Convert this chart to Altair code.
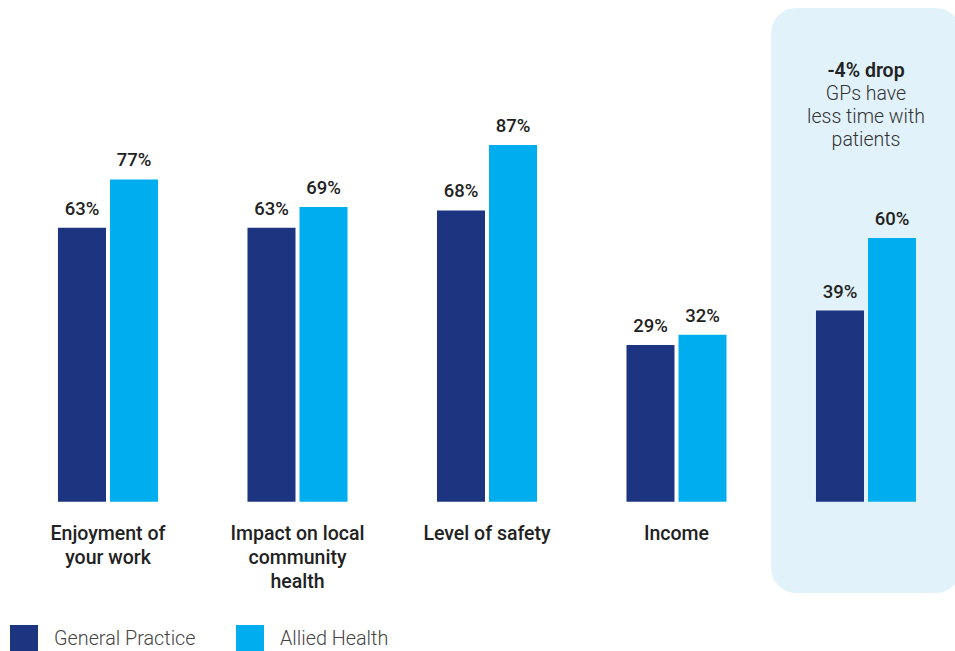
import altair as alt
import pandas as pd

categories = [
    "Enjoyment of your work",
    "Impact on local community health",
    "Level of safety",
    "Income",
    "Time available with patients",
]
category_lines = [
    ["Enjoyment of", "your work"],
    ["Impact on local", "community", "health"],
    ["Level of safety"],
    ["Income"],
    ["Time available", "with patients"],
]
series = ["General Practice", "Allied Health"]
general_practice = [63, 63, 68, 29, 39]
allied_health = [77, 69, 87, 32, 60]
colors = ["#1d3481", "#00aeef"]

highlight_category = "Time available with patients"
note_title = "-4% drop"
note_body = "GPs have|less time with|patients"

rows = []
for c, gp, ah in zip(categories, general_practice, allied_health):
    rows.append({"category": c, "series": series[0], "value": gp, "label": f"{gp}%"})
    rows.append({"category": c, "series": series[1], "value": ah, "label": f"{ah}%"})
df = pd.DataFrame(rows)

y_min, y_max = -16.4, 129.0
FONT = "Roboto"

label_map = "{" + ", ".join(
    "'" + c + "': [" + ", ".join("'" + l + "'" for l in lines) + "]"
    for c, lines in zip(categories, category_lines)
) + "}"

x_enc = alt.X(
    "category:N",
    sort=categories,
    scale=alt.Scale(domain=categories, paddingInner=0, paddingOuter=0, range=[0, 947.5]),
    axis=alt.Axis(
        title=None, domain=False, ticks=False, labelAngle=0,
        labelExpr=label_map + "[datum.label]",
        labelFont=FONT, labelFontSize=19.5, labelFontWeight=500, labelColor="#222222",
        labelPadding=23, labelLineHeight=24, labelBaseline="top", labelLimit=300,
    ),
)
xoff_enc = alt.XOffset(
    "series:N", sort=series,
    scale=alt.Scale(domain=series, paddingInner=4 / 52, paddingOuter=0.86),
)
y_scale = alt.Scale(domain=[y_min, y_max], nice=False, zero=False)

panel = alt.Chart(pd.DataFrame({"category": [highlight_category]})).mark_bar(
    color="#e1f2fb", cornerRadius=25
).encode(
    x=x_enc,
    y=alt.value(8),
    y2=alt.value(593),
)

bars = alt.Chart(df).mark_bar().encode(
    x=x_enc,
    xOffset=xoff_enc,
    y=alt.Y("value:Q", scale=y_scale, axis=None),
    y2=alt.datum(y_min),
    color=alt.Color(
        "series:N", sort=series,
        scale=alt.Scale(domain=series, range=colors),
        legend=alt.Legend(
            title=None, orient="none", legendX=-3.25, legendY=625,
            direction="horizontal", columns=2, columnPadding=40,
            symbolType="square", symbolSize=784, symbolStrokeWidth=0,
            symbolOpacity=1, labelOffset=16,
            labelFont=FONT, labelFontSize=19.8, labelFontWeight=300,
            labelColor="#444444", labelLimit=300,
        ),
    ),
)

values = alt.Chart(df).mark_text(
    font=FONT, fontSize=18.5, fontWeight=500, color="#222222",
    baseline="alphabetic", dy=-13,
).encode(
    x=x_enc,
    xOffset=xoff_enc,
    y=alt.Y("value:Q", scale=y_scale),
    text="label:N",
)

note_df = pd.DataFrame({"category": [highlight_category], "title": [note_title], "body": [note_body]})
note_title_layer = alt.Chart(note_df).mark_text(
    font=FONT, fontSize=19.5, fontWeight=600, color="#222222", baseline="alphabetic",
).encode(x=x_enc, y=alt.value(77), text="title:N")
note_body_layer = alt.Chart(note_df).mark_text(
    font=FONT, fontSize=19.5, fontWeight=300, color="#333333", baseline="alphabetic",
    lineBreak="|", lineHeight=23,
).encode(x=x_enc, y=alt.value(100), text="body:N")

chart = alt.layer(panel, bars, values, note_title_layer, note_body_layer).properties(
    width=941.75,
    height=501.7,
    padding={"left": 13.25, "top": 0, "right": 0, "bottom": 149.3},
    autosize=alt.AutoSizeParams(type="none"),
    background="white",
).configure_view(stroke=None)

chart.save("out.html", embed_options={"renderer": "svg", "actions": False})
